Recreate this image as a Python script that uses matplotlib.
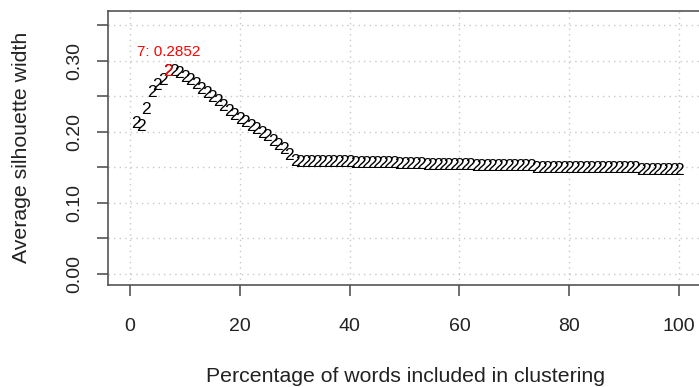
import numpy as np
import matplotlib
matplotlib.use('Agg')
import matplotlib.pyplot as plt

plt.rcParams['font.family'] = ['Liberation Sans', 'DejaVu Sans']

# percentage of words included (1..100) and average silhouette width
pct = list(range(1, 101))
sil = ([0.212, 0.207, 0.232, 0.255, 0.265, 0.272, 0.2852,
        0.285, 0.282, 0.277, 0.272, 0.266, 0.260, 0.254, 0.248, 0.242, 0.236,
        0.229, 0.223, 0.218, 0.213, 0.208, 0.203, 0.198, 0.193, 0.187, 0.181,
        0.175, 0.166, 0.158]
       + [0.157] * 10     # 31-40
       + [0.155] * 8      # 41-48
       + [0.154] * 5      # 49-53
       + [0.152] * 9      # 54-62
       + [0.151] * 11     # 63-73
       + [0.149] * 19     # 74-92
       + [0.146] * 8)     # 93-100
n_clusters = ['2'] * 100
best_idx = 7

xticks = [0, 20, 40, 60, 80, 100]
yticks = [0.0, 0.05, 0.10, 0.15, 0.20, 0.25, 0.30, 0.35]
ylabels = ['0.00', '', '0.10', '', '0.20', '', '0.30', '']

W, H = 699, 387
fig = plt.figure(figsize=(W / 100, H / 100), dpi=100)
ax = fig.add_axes([108 / W, 1 - 285 / H, (701 - 108) / W, (285 - 11) / H])
ax.set_xlim(-4, 104)
ax.set_ylim(-0.0155, 0.370)

# grid
for gx in xticks:
    ax.axvline(gx, color='#c8c8c8', lw=1.0, ls=(0, (1, 3)), zorder=0)
for gy in yticks:
    ax.axhline(gy, color='#c8c8c8', lw=1.0, ls=(0, (1, 3)), zorder=0)

# points drawn as the cluster count character
for x, y, s in zip(pct, sil, n_clusters):
    ax.text(x, y, s, ha='center', va='center', fontsize=12.5, color='black',
            clip_on=True)
ax.text(pct[best_idx - 1], sil[best_idx - 1], n_clusters[best_idx - 1],
        ha='center', va='center', fontsize=12.5, color='red')
ax.text(pct[best_idx - 1], 0.313, f'{best_idx}: {sil[best_idx - 1]:.4f}',
        ha='center', va='center', fontsize=11, color='red')

for sp in ax.spines.values():
    sp.set_color('#555555')
    sp.set_linewidth(1.2)

ax.set_xticks(xticks)
ax.set_xticklabels([str(t) for t in xticks])
ax.set_yticks(yticks)
ax.set_yticklabels(ylabels, rotation=90, va='center')
ax.tick_params(axis='both', length=8, width=1.2, color='#555555',
               labelsize=14, labelcolor='#222222')
ax.tick_params(axis='x', pad=16)
ax.tick_params(axis='y', pad=10)

fig.text(405 / W, 1 - 376 / H, 'Percentage of words included in clustering',
         ha='center', va='center', fontsize=15.3, color='#222222')
fig.text(22 / W, 1 - 147 / H, 'Average silhouette width', rotation=90,
         ha='center', va='center', fontsize=15.3, color='#222222')

fig.savefig('out.png', dpi=100)
